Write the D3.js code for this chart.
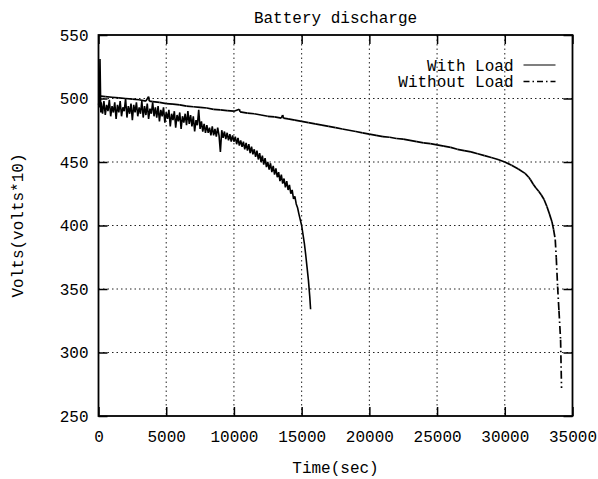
<!DOCTYPE html>
<html>
<head>
<meta charset="utf-8">
<script src="https://cdn.jsdelivr.net/npm/d3@7"></script>
<style>
  body { margin: 0; background: #fff; }
  svg text { font-family: "Liberation Mono", "Courier New", monospace; fill: #000; }
</style>
</head>
<body>
<svg width="598" height="479"></svg>
<script>
// [time (sec), volts*10]
var withLoad = [
  [0,496],[60,493],[110,531],[170,489],[200,497],[300,488],[400,498],[500,487],[600,495],[700,490],[800,499],[900,486],
  [1000,494],[1100,489],[1200,497],[1300,484],[1400,495],[1500,489],[1600,498],[1700,486],[1800,493],[1900,490],
  [2000,500],[2100,485],[2200,494],[2300,488],[2400,496],[2500,483],[2600,495],[2700,489],[2800,497],[2900,486],
  [3000,493],[3100,488],[3200,498],[3300,485],[3400,494],[3500,487],[3600,496],[3700,484],[3800,492],[3900,488],
  [4000,497],[4100,486],[4200,493],[4300,485],[4400,494],[4500,482],[4600,491],[4700,486],[4800,493],[4900,481],
  [5000,489],[5100,484],[5200,491],[5300,478],[5400,488],[5500,483],[5600,490],[5700,477],[5800,487],[5900,482],
  [6000,489],[6100,476],[6200,486],[6300,481],[6400,488],[6500,479],[6600,490],[6700,480],[6800,487],[6900,478],
  [7000,486],[7100,474],[7200,483],[7300,479],[7400,491],[7500,476],[7600,482],[7700,474],[7800,480],[7900,473],
  [8000,479],[8100,473],[8200,477],[8300,471],[8400,478],[8500,471],[8600,476],[8700,470],[8800,477],[8900,471],
  [9000,458],[9100,475],[9200,469],[9300,474],[9400,468],[9500,473],[9600,467],[9700,472],[9800,466],[9900,471],
  [10000,466],[10100,470],[10200,464],[10300,469],[10400,463],[10500,467],[10600,462],[10700,466],[10800,460],[10900,465],
  [11000,459],[11100,464],[11200,457],[11300,462],[11400,456],[11500,460],[11600,454],[11700,459],[11800,452],[11900,457],
  [12000,450],[12100,455],[12200,448],[12300,453],[12400,446],[12500,450],[12600,444],[12700,449],[12800,442],[12900,447],
  [13000,440],[13100,445],[13200,438],[13300,442],[13400,435],[13500,440],[13600,433],[13700,437],[13800,430],[13900,435],
  [14000,428],[14100,432],[14200,425],[14300,428],[14400,421],[14500,423],[14600,417],[14700,414],[14800,409],[15000,400],
  [15200,386],[15300,377],[15400,367],[15500,357],[15600,344],[15660,334]
];

var withoutLoad = [
  [0,502],[500,501.5],[1000,501],[1500,500.5],[2000,500],[2500,499.5],[3000,499],[3500,498],[3700,501.5],[3750,498],
  [4000,497.5],[4500,497],[5000,496],[5500,495.5],[6000,495],[6500,494],[7000,493.5],[7500,493],[8000,492.5],[8500,491.5],
  [9000,491],[9500,490.5],[10000,490],[10400,491.5],[10450,489.5],[11000,488.5],[11500,488],[12000,487],[12500,486],[13000,485.5],
  [13500,484.5],[13600,487],[13650,484.5],[14000,484],[14500,483],[15000,482],[15500,481],[16000,480],[16500,479],[17000,478],
  [17500,477],[18000,476],[18500,475],[19000,474],[19500,473],[20000,472],[20500,471],[21000,470],[21500,469.5],[22000,468.5],
  [22500,468],[23000,467],[23500,466],[24000,465],[24500,464.5],[25000,463.5],[25500,462.5],[26000,461.5],[26500,460],[27000,459],
  [27500,458],[28000,456.5],[28500,455],[29000,453.5],[29500,452],[30000,450],[30500,447.5],[31000,444.5],[31500,441],[31765,438],
  [31900,436],[32100,432.5],[32300,429.5],[32500,427],[32700,424],[32900,420.5],[33110,415],[33300,409],[33480,403],[33600,397],
  [33725,389],[33800,375],[33900,352],[34000,333],[34120,310],[34190,272]
];

var xTicks = [0, 5000, 10000, 15000, 20000, 25000, 30000, 35000],
    yTicks = [250, 300, 350, 400, 450, 500, 550],
    seriesNames = ["With Load", "Without Load"];

var svg = d3.select("svg"),
    margin = { top: 35, right: 25.5, bottom: 63, left: 98.5 },
    width = svg.attr("width") - margin.left - margin.right,
    height = svg.attr("height") - margin.top - margin.bottom;

var x = d3.scaleLinear().domain([0, 35000]).range([0, width]),
    y = d3.scaleLinear().domain([250, 550]).range([height, 0]);

var g = svg.append("g")
    .attr("transform", "translate(" + margin.left + "," + margin.top + ")");

var dashDot = "8,3,1.5,3";

// dotted grid
g.selectAll(".gx")
    .data(xTicks.slice(1, -1))
    .enter().append("line")
    .attr("x1", d => x(d)).attr("x2", d => x(d))
    .attr("y1", 0).attr("y2", height)
    .attr("stroke", "#222").attr("stroke-dasharray", "1.5,3");

g.selectAll(".gy")
    .data(yTicks.slice(1, -1))
    .enter().append("line")
    .attr("x1", 0).attr("x2", width)
    .attr("y1", d => y(d)).attr("y2", d => y(d))
    .attr("stroke", "#222").attr("stroke-dasharray", "1.5,3");

// axes, ticks pointing inward on all four sides
function styleAxis(sel) {
    sel.select(".domain").remove();
    sel.selectAll(".tick line").attr("stroke", "#000").attr("stroke-width", 1.5);
    sel.selectAll("text").attr("font-family", "Liberation Mono, Courier New, monospace").attr("font-size", 16).attr("fill", "#000");
}

g.append("g")
    .attr("transform", "translate(0," + height + ")")
    .call(d3.axisBottom(x).tickValues(xTicks).tickSize(-9).tickPadding(15).tickFormat(d3.format("d")))
    .call(styleAxis);

g.append("g")
    .call(d3.axisLeft(y).tickValues(yTicks).tickSize(-9).tickPadding(10).tickFormat(d3.format("d")))
    .call(styleAxis);

g.append("g")
    .call(d3.axisTop(x).tickValues(xTicks).tickSize(-9).tickFormat(""))
    .call(styleAxis);

g.append("g")
    .attr("transform", "translate(" + width + ",0)")
    .call(d3.axisRight(y).tickValues(yTicks).tickSize(-9).tickFormat(""))
    .call(styleAxis);

// With Load: plain line
var line = d3.line().x(d => x(d[0])).y(d => y(d[1]));

g.append("path")
    .datum(withLoad)
    .attr("d", line)
    .attr("fill", "none")
    .attr("stroke", "#000")
    .attr("stroke-width", 1.6)
    .attr("stroke-linejoin", "bevel");

// Without Load: dash-dot, pattern restarts on every segment
g.selectAll(".seg")
    .data(d3.pairs(withoutLoad))
    .enter().append("line")
    .attr("x1", d => x(d[0][0])).attr("y1", d => y(d[0][1]))
    .attr("x2", d => x(d[1][0])).attr("y2", d => y(d[1][1]))
    .attr("stroke", "#000")
    .attr("stroke-width", 1.7)
    .attr("stroke-dasharray", dashDot);

// border
g.append("rect")
    .attr("width", width).attr("height", height)
    .attr("fill", "none").attr("stroke", "#000").attr("stroke-width", 1.8);

// legend
var legend = g.selectAll(".legend")
    .data(seriesNames)
    .enter().append("g")
    .attr("transform", (d, i) => "translate(0," + (30 + i * 16.5) + ")");

legend.append("text")
    .attr("x", 415)
    .attr("dy", "0.35em")
    .attr("text-anchor", "end")
    .attr("font-size", 16)
    .text(d => d);

legend.append("line")
    .attr("x1", 425).attr("x2", 457)
    .attr("stroke", "#000")
    .attr("stroke-width", (d, i) => i ? 1.4 : 1.2)
    .attr("stroke-dasharray", (d, i) => i ? "6,3,1.5,3" : null);

// titles
svg.append("text")
    .attr("x", margin.left + width / 2)
    .attr("y", 23)
    .attr("text-anchor", "middle")
    .attr("font-size", 16)
    .text("Battery discharge");

svg.append("text")
    .attr("x", margin.left + width / 2)
    .attr("y", 473)
    .attr("text-anchor", "middle")
    .attr("font-size", 16)
    .text("Time(sec)");

svg.append("text")
    .attr("transform", "rotate(-90)")
    .attr("x", -margin.top - height / 2)
    .attr("y", 23)
    .attr("text-anchor", "middle")
    .attr("font-size", 16)
    .text("Volts(volts*10)");
</script>
</body>
</html>
